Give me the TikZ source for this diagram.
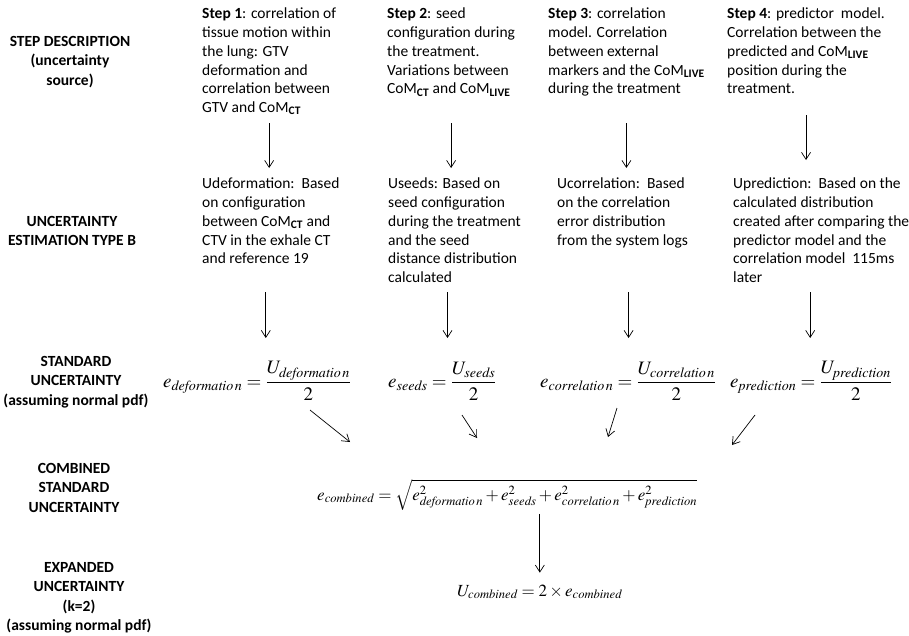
\documentclass[tikz,border=0pt]{standalone}
\usepackage{mathptmx}
\usepackage[no-math]{fontspec}
\setmainfont{Carlito}
\usetikzlibrary{arrows.meta}
\newcommand{\lowtag}[1]{\textsubscript{\textbf{#1}}}
\tikzset{
	rowlabel/.style = {anchor=north, align=center, inner sep=0pt, font=\bfseries\fontsize{15.5}{19.5}\selectfont},
	steptext/.style = {anchor=north west, align=left, inner sep=0pt, font=\fontsize{15.5}{18.7}\selectfont},
	formula/.style = {anchor=west, inner sep=0pt, font=\fontsize{19}{22}\selectfont},
	bigformula/.style = {formula, font=\fontsize{17}{20}\selectfont},
	arr/.style = {-{Straight Barb[length=7pt,width=9pt]}, line width=0.7pt}
}
\begin{document}
\begin{tikzpicture}[x=1pt, y=-1pt]
		\useasboundingbox (0,0) rectangle (909,635);
		% row labels
		\node[rowlabel] (lab1) at (70,36) {STEP DESCRIPTION\\(uncertainty\\source)};
		\node[rowlabel] (lab2) at (72,216) {UNCERTAINTY\\ESTIMATION TYPE B};
		\node[rowlabel] (lab3) at (76,356) {STANDARD\\UNCERTAINTY\\(assuming normal pdf)};
		\node[rowlabel] (lab4) at (74,463) {COMBINED\\STANDARD\\UNCERTAINTY};
		\node[rowlabel] (lab5) at (79,562) {EXPANDED\\UNCERTAINTY\\(k=2)\\(assuming normal pdf)};
		
		% steps
		\node[steptext] (step1) at (202,8) {\textbf{Step 1}: correlation of\\tissue motion within\\the lung: GTV\\deformation and\\correlation between\\GTV and CoM\lowtag{CT}};
		\node[steptext] (step2) at (387,8) {\textbf{Step 2}: seed\\configuration during\\the treatment.\\Variations between\\CoM\lowtag{CT} and CoM\lowtag{LIVE}};
		\node[steptext] (step3) at (548,8) {\textbf{Step 3}: correlation\\model. Correlation\\between external\\markers and the CoM\lowtag{LIVE}\\during the treatment};
		\node[steptext] (step4) at (727,8) {\textbf{Step 4}: predictor\ \ model.\\Correlation between the\\predicted and CoM\lowtag{LIVE}\\position during the\\treatment.};
		
		% type B estimation
		\node[steptext] (unc1) at (202,178) {Udeformation:\ \ Based\\on configuration\\between CoM\lowtag{CT} and\\CTV in the exhale CT\\and reference 19};
		\node[steptext] (unc2) at (388,178) {Useeds: Based on\\seed configuration\\during the treatment\\and the seed\\distance distribution\\calculated};
		\node[steptext] (unc3) at (557,178) {Ucorrelation:\ \ Based\\on the correlation\\error distribution\\from the system logs};
		\node[steptext] (unc4) at (733,178) {Uprediction:\ \ Based on the\\calculated distribution\\created after comparing the\\predictor model and the\\correlation model\ \ 115ms\\later};
		
		% standard uncertainty
		\node[formula] (std1) at (163,381) {$\displaystyle e_{\mathit{deformatio\,n}} = \frac{U_{\mathit{deformatio\,n}}}{2}$};
		\node[formula] (std2) at (388,381) {$\displaystyle e_{\mathit{seeds}} = \frac{U_{\mathit{seeds}}}{2}$};
		\node[formula] (std3) at (540,381) {$\displaystyle e_{\mathit{correlatio\,n}} = \frac{U_{\mathit{correlatio\,n}}}{2}$};
		\node[formula] (std4) at (730,381) {$\displaystyle e_{\mathit{prediction}} = \frac{U_{\mathit{prediction}}}{2}$};
		
		% combined and expanded
		\node[bigformula] (comb) at (317,495) {$\displaystyle e_{\mathit{combined}} = \sqrt{e^2_{\mathit{deformatio\,n}} + e^2_{\mathit{seeds}} + e^2_{\mathit{correlatio\,n}} + e^2_{\mathit{prediction}}}$};
		\node[bigformula] (expd) at (457,592) {$\displaystyle U_{\mathit{combined}} = 2\times e_{\mathit{combined}}$};
		
		% arrows
		\coordinate (r1a) at (0,123);
		\coordinate (r1b) at (0,168);
		\coordinate (r2a) at (0,292);
		\coordinate (r2b) at (0,338);
		\foreach \n in {1,2,3}
			\draw[arr] (step\n |- r1a) -- (step\n |- r1b);
		\draw[arr] ([yshift=8pt]step4 |- r1a) -- ([yshift=8pt]step4 |- r1b);
		\foreach \n/\dx in {1/-5, 2/-7, 3/6, 4/-11}
			\draw[arr] ([xshift=\dx pt]unc\n |- r2a) -- ([xshift=\dx pt]unc\n |- r2b);
		
		\coordinate (o1) at (310,410); \coordinate (i1) at (350,442);
		\coordinate (o2) at (462,415); \coordinate (i2) at (477,438);
		\coordinate (o3) at (617,408); \coordinate (i3) at (608,437);
		\coordinate (o4) at (755,415); \coordinate (i4) at (732,445);
		\foreach \n in {1,...,4}
			\draw[arr] (o\n) -- (i\n);
		
		\draw[arr] (expd |- comb.south) -- (expd.north) [shorten <=3pt, shorten >=12pt];
	\end{tikzpicture}
\end{document}
